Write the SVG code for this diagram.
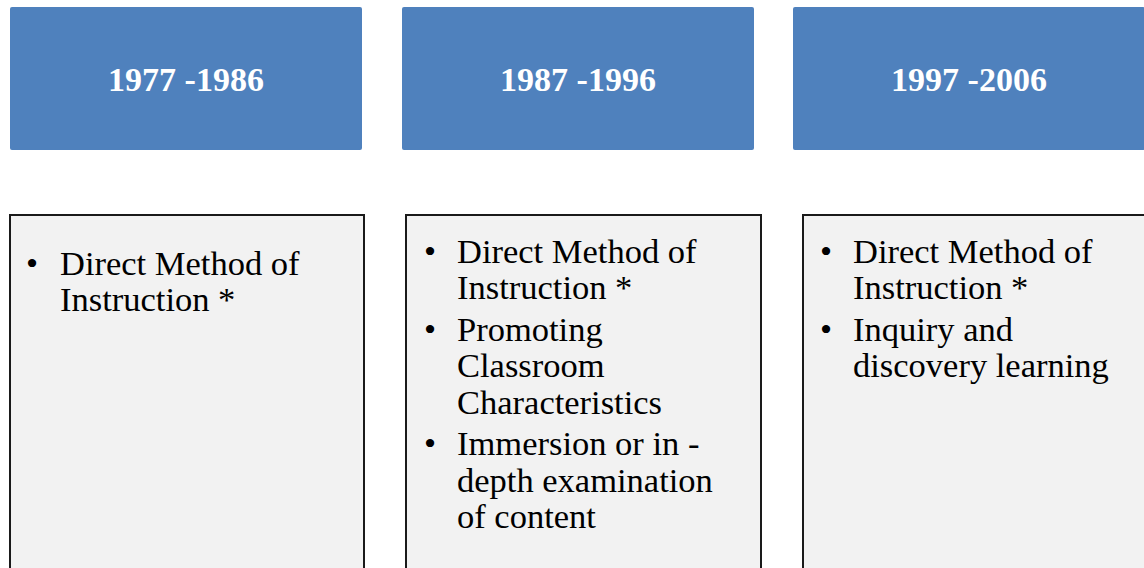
<svg xmlns="http://www.w3.org/2000/svg" width="1144" height="568" viewBox="0 0 1144 568">
<style>
.hdr{fill:#4F81BD;}
.ht{font-family:"Liberation Serif","Times New Roman",serif;font-weight:bold;font-size:34px;fill:#FFFFFF;text-anchor:middle;}
.body{fill:#F2F2F2;stroke:#1A1A1A;stroke-width:2;}
.bt{font-family:"Liberation Serif","Times New Roman",serif;font-size:34.5px;fill:#000000;}
</style>
<rect width="1144" height="568" fill="#FFFFFF"/>
<g id="h1"><rect class="hdr" x="10" y="7" width="352" height="143" rx="2"/><text class="ht" x="186" y="91">1977 -1986</text></g>
<g id="h2"><rect class="hdr" x="402" y="7" width="352" height="143" rx="2"/><text class="ht" x="578" y="91">1987 -1996</text></g>
<g id="h3"><rect class="hdr" x="793" y="7" width="352" height="143" rx="2"/><text class="ht" x="969" y="91">1997 -2006</text></g>
<g id="b1"><rect class="body" x="10" y="215" width="354" height="370"/>
<text class="bt"><tspan x="26" y="275">•</tspan><tspan x="60" y="275">Direct Method of</tspan><tspan x="60" y="311">Instruction *</tspan></text></g>
<g id="b2"><rect class="body" x="406" y="215" width="355" height="370"/>
<text class="bt"><tspan x="424" y="263">•</tspan><tspan x="457" y="263">Direct Method of</tspan><tspan x="457" y="299">Instruction *</tspan>
<tspan x="424" y="341">•</tspan><tspan x="457" y="341">Promoting</tspan><tspan x="457" y="377">Classroom</tspan><tspan x="457" y="414">Characteristics</tspan>
<tspan x="424" y="455">•</tspan><tspan x="457" y="455">Immersion or in -</tspan><tspan x="457" y="492">depth examination</tspan><tspan x="457" y="528">of content</tspan></text></g>
<g id="b3"><rect class="body" x="803" y="215" width="360" height="370"/>
<text class="bt"><tspan x="820" y="263">•</tspan><tspan x="853" y="263">Direct Method of</tspan><tspan x="853" y="299">Instruction *</tspan>
<tspan x="820" y="341">•</tspan><tspan x="853" y="341">Inquiry and</tspan><tspan x="853" y="377">discovery learning</tspan></text></g>
<g id="connectors"></g>
</svg>
